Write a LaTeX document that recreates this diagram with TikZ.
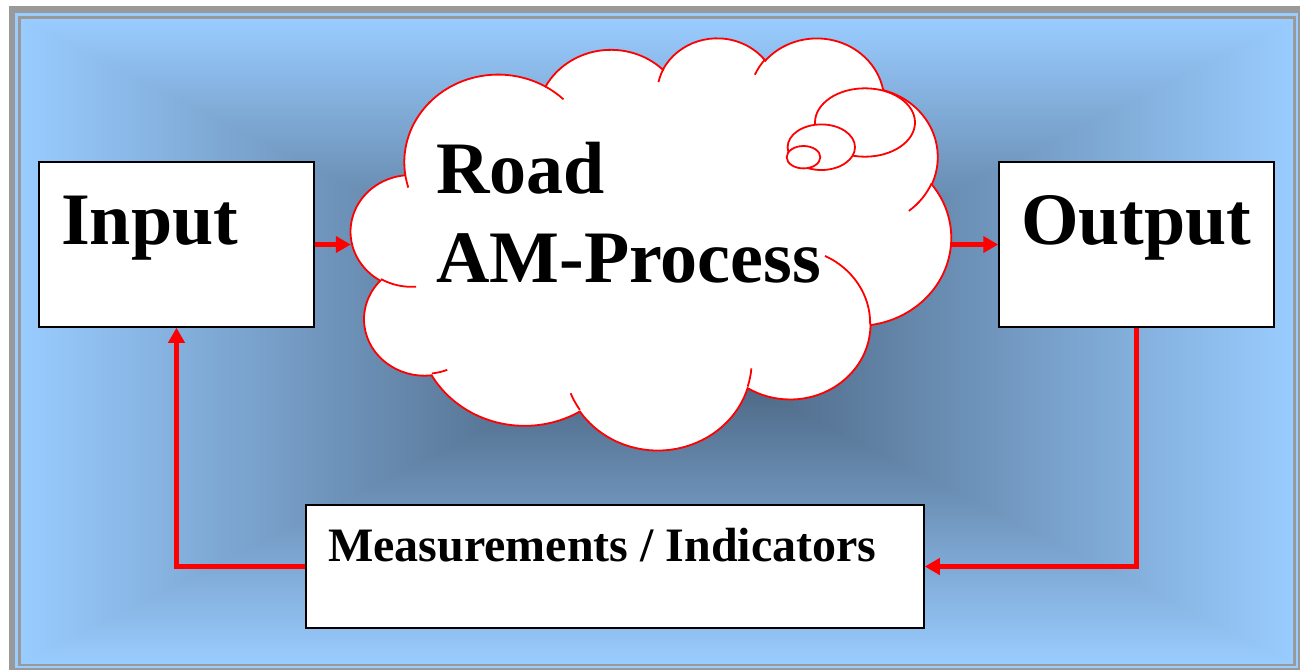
\documentclass[tikz,border=0pt]{standalone}
\usepackage{fontspec}
\setmainfont{Liberation Serif}
\usetikzlibrary{arrows.meta}
\definecolor{framegray}{RGB}{153,153,153}
\definecolor{skyblue}{RGB}{153,204,255}
\pgfdeclarefunctionalshading{rectgrad}{\pgfpoint{0bp}{0bp}}{\pgfpoint{100bp}{100bp}}{}{50 sub abs exch 50 sub abs 2 copy lt {exch} if pop 25 div dup 1 gt {pop 1} if dup 0.341 mul 0.259 add exch dup 0.451 mul 0.349 add exch 0.549 mul 0.451 add}
\tikzset{
  box/.style={draw=black, line width=1.5pt, fill=white, inner sep=0pt},
  lbl/.style={anchor=base west, inner sep=0pt, font=\bfseries\fontsize{74}{80}\selectfont},
  smalllbl/.style={anchor=base west, inner sep=0pt, font=\bfseries\fontsize{48}{52}\selectfont},
  flow/.style={draw=red, line width=5pt, line join=miter, -{Triangle[length=15pt,width=16pt]}},
  cloudline/.style={draw=red, line width=1.8pt},
  cl/.style n args={4}{insert path={arc[x radius=#1, y radius=#2,
      start angle={atan2(#1*sin(#3),#2*cos(#3))},
      delta angle={mod(atan2(#1*sin(#3+#4),#2*cos(#3+#4))-atan2(#1*sin(#3),#2*cos(#3))+720,360)}]}}
}
\begin{document}
\begin{tikzpicture}[x=1pt,y=-1pt]
\useasboundingbox (0,0) rectangle (1300,670);
% frame
\fill[framegray] (9,6) rectangle (1300,670);
\fill[skyblue] (15,13) rectangle (1298,668);
\fill[framegray] (18,16) rectangle (1296,666);
\path[shading=rectgrad] (21,19) rectangle (1293,663);

% boxes
\node[box, minimum width=275pt, minimum height=165pt] (in) at (176.5,244.5) {};
\node[box, minimum width=275pt, minimum height=165pt] (out) at (1136.5,244.5) {};
\node[box, minimum width=618pt, minimum height=123pt] (meas) at (615,566.5) {};
\node[lbl] (inlbl) at (61,244) {Input};
\node[lbl] (outlbl) at (1021,244) {Output};
\node[smalllbl] (measlbl) at (328,561) {Measurements / Indicators};

% cloud
\node[inner sep=0pt, minimum width=600pt, minimum height=412pt] (cloud) at (651,243) {};
\begin{scope}[shift={(351,37)}, x=1.388889pt, y=-0.953704pt]
\draw[cloudline, fill=white] (39.00,143.70)
  [cl={67.53}{91.90}{-190.4875}{123.7805}]
  [cl={53.33}{72.67}{-144.1024}{89.9452}]
  [cl={43.65}{59.45}{-145.8079}{99.7230}]
  [cl={48.57}{65.95}{-130.9861}{117.2417}]
  [cl={53.33}{72.73}{-78.7089}{109.0269}]
  [cl={67.75}{92.20}{-46.2673}{130.2690}]
  [cl={57.85}{78.67}{0.6250}{114.0333}]
  [cl={67.52}{92.15}{22.4516}{115.1726}]
  [cl={77.20}{105.43}{66.2426}{75.7110}]
  [cl={43.60}{59.18}{-274.9421}{146.7356}]
  [cl={43.45}{59.45}{-246.8285}{152.5189}] -- cycle;
\draw[cloudline]
  (46.93,261.77) [cl={43.45}{59.45}{86.742}{26.4295}]
  (69.28,348.99) [cl={43.60}{59.18}{73.610}{11.447}]
  (164.78,390.90) [cl={67.52}{92.15}{137.624}{14.081}]
  (288.27,347.51) [cl={67.52}{92.15}{6.4533}{15.998}]
  (341.29,229.54) [cl={57.85}{78.67}{-70.292}{71.632}]
  (417.98,153.54) [cl={53.33}{72.73}{30.318}{29.983}]
  (383.24,54.26) [cl={48.57}{65.95}{-13.744}{14.855}]
  (290.78,39.52) [cl={48.57}{65.95}{-149.181}{18.193}]
  (221.41,47.20) [cl={43.65}{59.45}{-163.494}{17.691}]
  (140.00,51.92) [cl={67.53}{91.90}{-66.707}{12.319}]
  (41.27,157.89) [cl={67.53}{91.90}{157.654}{11.858}];
\end{scope}
% thought bubbles
\draw[cloudline, fill=white] (865,122.5) ellipse [x radius=50, y radius=34.2];
\draw[cloudline, fill=white] (821.3,147.2) ellipse [x radius=33.7, y radius=22.8];
\draw[cloudline, fill=white] (803.5,157.2) ellipse [x radius=16.8, y radius=11.2];
\node[lbl] (road) at (436,193) {Road};
\node[lbl] (amp) at (436,282) {AM-Process};

% connectors
\draw[flow] (in.east) -- (cloud.west |- in.east);
\draw[flow] (cloud.east |- out.west) -- (out.west);
\draw[flow] (out.south) -- (out.south |- meas.east) -- (meas.east);
\draw[flow] (meas.west) -- (in.south |- meas.west) -- (in.south);
\end{tikzpicture}
\end{document}
